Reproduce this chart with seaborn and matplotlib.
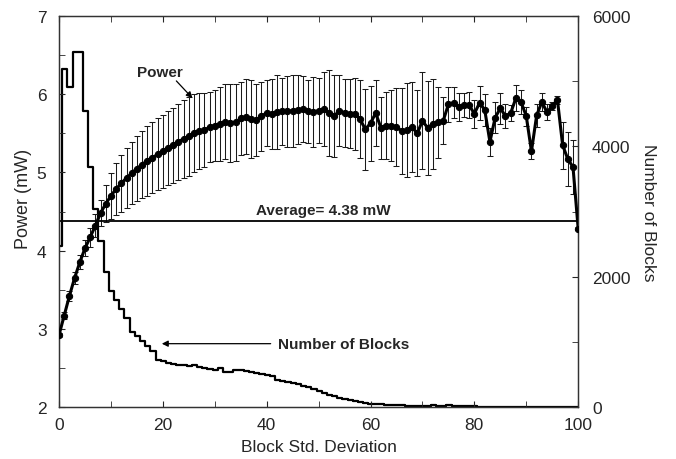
import numpy as np
import pandas as pd
import matplotlib
matplotlib.use('Agg')
import matplotlib.pyplot as plt
import seaborn as sns
from matplotlib.ticker import MultipleLocator

# power per block std. deviation (mW) and its spread
std_dev = list(range(0, 101))
power = [2.92, 3.17, 3.42, 3.65, 3.85, 4.03, 4.17, 4.32, 4.48, 4.60,
         4.70, 4.79, 4.86, 4.93, 4.99, 5.05, 5.10, 5.15, 5.19, 5.23,
         5.27, 5.31, 5.35, 5.39, 5.43, 5.46, 5.50, 5.53, 5.54, 5.58,
         5.60, 5.62, 5.65, 5.63, 5.64, 5.69, 5.71, 5.68, 5.67, 5.72,
         5.76, 5.75, 5.77, 5.78, 5.78, 5.79, 5.80, 5.81, 5.78, 5.77,
         5.79, 5.81, 5.76, 5.72, 5.79, 5.76, 5.75, 5.75, 5.68, 5.55,
         5.63, 5.76, 5.57, 5.60, 5.60, 5.58, 5.53, 5.54, 5.58, 5.50,
         5.66, 5.57, 5.62, 5.64, 5.66, 5.87, 5.89, 5.84, 5.86, 5.86,
         5.75, 5.89, 5.80, 5.39, 5.70, 5.82, 5.72, 5.76, 5.95, 5.90,
         5.72, 5.27, 5.73, 5.90, 5.77, 5.85, 5.93, 5.35, 5.17, 5.07,
         4.28]
power_err = [0.03, 0.05, 0.07, 0.08, 0.09, 0.10, 0.12, 0.15, 0.17, 0.24,
             0.29, 0.33, 0.36, 0.38, 0.40, 0.42, 0.43, 0.45, 0.45, 0.46,
             0.47, 0.47, 0.48, 0.49, 0.50, 0.50, 0.50, 0.49, 0.47, 0.45,
             0.45, 0.47, 0.48, 0.50, 0.49, 0.47, 0.48, 0.50, 0.46, 0.44,
             0.42, 0.45, 0.47, 0.43, 0.45, 0.46, 0.44, 0.42, 0.40, 0.45,
             0.42, 0.47, 0.55, 0.52, 0.45, 0.43, 0.44, 0.46, 0.50, 0.52,
             0.48, 0.42, 0.40, 0.43, 0.45, 0.50, 0.55, 0.60, 0.57, 0.55,
             0.62, 0.60, 0.58, 0.45, 0.30, 0.22, 0.20, 0.18, 0.15, 0.17,
             0.18, 0.22, 0.20, 0.18, 0.20, 0.20, 0.15, 0.10, 0.17, 0.15,
             0.12, 0.10, 0.15, 0.12, 0.10, 0.05, 0.05, 0.30, 0.35, 0.35,
             0.02]

# number of blocks per histogram bin
hist_edges = [0.0] + [k + 0.6 for k in range(100)] + [100.0]
block_counts = [2470, 5190, 4910, 5450, 5450, 4540, 3680, 3040, 2550, 2070,
                1780, 1640, 1500, 1370, 1150, 1090, 1010, 940, 860, 720,
                700, 680, 665, 650, 640, 630, 650, 610, 600, 585,
                575, 600, 545, 530, 565, 570, 555, 540, 520, 505,
                490, 470, 420, 400, 385, 370, 350, 325, 300, 280,
                245, 215, 190, 165, 140, 120, 105, 90, 75, 60,
                50, 45, 40, 35, 30, 28, 25, 20, 18, 16,
                15, 14, 30, 15, 12, 35, 12, 10, 9, 8,
                8, 7, 7, 6, 6, 5, 5, 5, 4, 4,
                4, 4, 3, 3, 3, 3, 3, 3, 3, 3, 3]
average_power = 4.38

sns.set_style('ticks')
plt.rcParams['font.family'] = ['Liberation Sans', 'DejaVu Sans']
plt.rcParams['xtick.direction'] = 'in'
plt.rcParams['ytick.direction'] = 'in'

hist_df = pd.DataFrame({
    'center': [(a + b) / 2 for a, b in zip(hist_edges[:-1], hist_edges[1:])],
    'count': block_counts,
})
power_df = pd.DataFrame({'std': std_dev, 'power': power, 'err': power_err})

fig = plt.figure(figsize=(6.76, 4.6), dpi=100)
ax = fig.add_axes([0.0873, 0.113, 0.768, 0.850])
ax2 = ax.twinx()

sns.histplot(data=hist_df, x='center', weights='count', bins=hist_edges,
             element='step', fill=False, color='black', linewidth=1.6, ax=ax2)
ax2.set_ylim(0, 6000)
ax2.yaxis.set_major_locator(MultipleLocator(2000))
ax2.yaxis.set_minor_locator(MultipleLocator(1000))
ax2.set_ylabel('Number of Blocks', fontsize=12.5, rotation=-90, labelpad=18)
ax2.tick_params(axis='y', which='major', labelsize=12.5, length=4, pad=10)
ax2.tick_params(axis='y', which='minor', length=4)

ax.set_zorder(ax2.get_zorder() + 1)
ax.patch.set_visible(False)

ax.errorbar(power_df['std'], power_df['power'], yerr=power_df['err'],
            fmt='none', ecolor='#1a1a1a', elinewidth=0.75, capsize=2,
            capthick=0.75, zorder=2)
sns.lineplot(data=power_df, x='std', y='power', color='black', linewidth=2.2,
             marker='o', markersize=4.5, markeredgecolor='black', ax=ax,
             zorder=3)
ax.axhline(average_power, color='black', linewidth=1.3, zorder=2)

ax.set_xlim(0, 100)
ax.set_ylim(2, 7)
ax.xaxis.set_major_locator(MultipleLocator(20))
ax.xaxis.set_minor_locator(MultipleLocator(10))
ax.yaxis.set_major_locator(MultipleLocator(1))
ax.yaxis.set_minor_locator(MultipleLocator(0.5))
ax.tick_params(axis='both', which='both', top=True, labelsize=12.5)
ax.tick_params(axis='both', which='major', length=4)
ax.tick_params(axis='both', which='minor', length=4)
ax.tick_params(axis='x', pad=7)
ax.tick_params(axis='y', pad=9)
ax.set_xlabel('Block Std. Deviation', fontsize=12.5, labelpad=5)
ax.set_ylabel('Power (mW)', fontsize=13)
ax.yaxis.set_label_coords(-0.052, 0.535)

for a in (ax, ax2):
    for s in a.spines.values():
        s.set_linewidth(0.9)
        s.set_color('#333333')

ax.text(51, 4.43, 'Average= 4.38 mW', fontsize=11, fontweight='bold',
        ha='center', va='bottom')
ax.text(19.5, 6.28, 'Power', fontsize=11, fontweight='bold',
        ha='center', va='center')
ax.annotate('', xy=(25.7, 5.95), xytext=(22.6, 6.17),
            arrowprops=dict(arrowstyle='-|>', color='black', lw=0.9,
                            shrinkA=0, shrinkB=0, mutation_scale=9))
ax.annotate('Number of Blocks', xy=(19.8, 2.81), xytext=(42.2, 2.81),
            fontsize=11, fontweight='bold', ha='left', va='center',
            arrowprops=dict(arrowstyle='-|>', color='black', lw=0.9,
                            shrinkA=3, shrinkB=0, mutation_scale=9))

fig.savefig('out.png', dpi=100)
